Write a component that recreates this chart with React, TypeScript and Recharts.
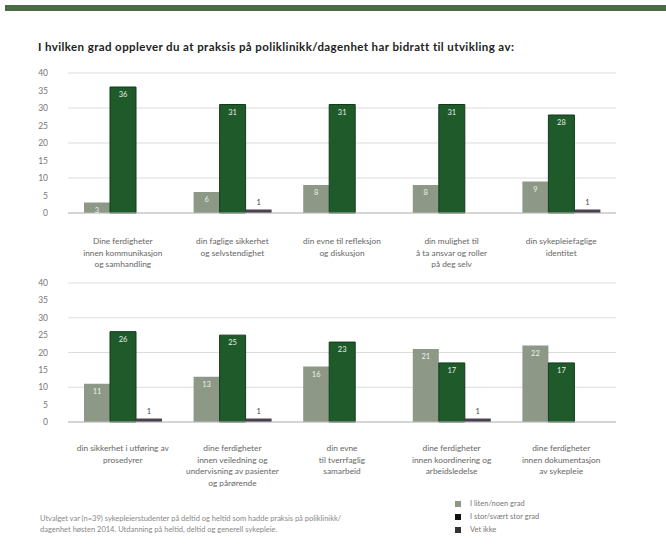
import { BarChart, Bar, XAxis, YAxis, CartesianGrid, LabelList } from 'recharts';

const TITLE = 'I hvilken grad opplever du at praksis på poliklinikk/dagenhet har bidratt til utvikling av:';

const SERIES = ['I liten/noen grad', 'I stor/svært stor grad', 'Vet ikke'];
const COLORS = ['#8d9887', '#1f5a2a', '#4a4050'];

// categories, line breaks with \n
const topCategories = [
  'Dine ferdigheter\ninnen kommunikasjon\nog samhandling',
  'din faglige sikkerhet\nog selvstendighet',
  'din evne til refleksjon\nog diskusjon',
  'din mulighet til\nå ta ansvar og roller\npå deg selv',
  'din sykepleiefaglige\nidentitet',
];
const topLow = [3, 6, 8, 8, 9];
const topHigh = [36, 31, 31, 31, 28];
const topDontKnow = [null, 1, null, null, 1];

const bottomCategories = [
  'din sikkerhet i utføring av\nprosedyrer',
  'dine ferdigheter\ninnen veiledning og\nundervisning av pasienter\nog pårørende',
  'din evne\ntil tverrfaglig\nsamarbeid',
  'dine ferdigheter\ninnen koordinering og\narbeidsledelse',
  'dine ferdigheter\ninnen dokumentasjon\nav sykepleie',
];
const bottomLow = [11, 13, 16, 21, 22];
const bottomHigh = [26, 25, 23, 17, 17];
const bottomDontKnow = [1, 1, null, 1, null];

const yTicks = [0, 5, 10, 15, 20, 25, 30, 35, 40];

const FOOTNOTE = [
  'Utvalget var (n=39) sykepleierstudenter på deltid og heltid som hadde praksis på poliklinikk/',
  'dagenhet høsten 2014. Utdanning på heltid, deltid og generell sykepleie.',
];

const FONT = 'Lato, "Liberation Sans", sans-serif';

const build = (cats: string[], a: (number | null)[], b: (number | null)[], c: (number | null)[]) =>
  cats.map((name, i) => ({ name, low: a[i], high: b[i], dk: c[i] }));

const CatTick = ({ x, y, payload, first }: any) => {
  const lines = String(payload.value).split('\n');
  return (
    <text x={x} y={y + first} textAnchor="middle" fill="#666" fontSize={8.3} fontFamily={FONT}>
      {lines.map((l, i) => (
        <tspan key={i} x={x} dy={i === 0 ? 0 : 11.5}>
          {l}
        </tspan>
      ))}
    </text>
  );
};

const hideZero = (v: any) => (v ? v : '');

function Panel({ data, top, height, marginTop, axisH, first }: any) {
  return (
    <div style={{ position: 'absolute', left: 0, top, width: 666, height }}>
      <BarChart
        width={666}
        height={height}
        data={data}
        margin={{ top: marginTop, right: 50, bottom: 4, left: 18 }}
        barSize={26}
        barGap={0}
      >
        <CartesianGrid vertical={false} stroke="#dcdcdc" />
        <XAxis
          dataKey="name"
          height={axisH}
          interval={0}
          tickLine={false}
          axisLine={{ stroke: '#bdbdbd' }}
          tick={<CatTick first={first} />}
        />
        <YAxis
          width={50}
          domain={[0, 40]}
          ticks={yTicks}
          axisLine={false}
          tickLine={false}
          tickSize={0}
          tickMargin={20}
          tick={{ fill: '#777', fontSize: 8.5, fontFamily: FONT }}
        />
        <Bar dataKey="low" name={SERIES[0]} fill={COLORS[0]} isAnimationActive={false}>
          <LabelList dataKey="low" position="insideTop" fill="#eef0ea" fontSize={7.5} fontFamily={FONT} formatter={hideZero} />
        </Bar>
        <Bar dataKey="high" name={SERIES[1]} fill={COLORS[1]} stroke="#123b1a" strokeWidth={1} isAnimationActive={false}>
          <LabelList dataKey="high" position="insideTop" fill="#e6efe6" fontSize={7.5} fontFamily={FONT} formatter={hideZero} />
        </Bar>
        <Bar dataKey="dk" name={SERIES[2]} fill={COLORS[2]} isAnimationActive={false}>
          <LabelList dataKey="dk" position="top" fill="#444" fontSize={7.5} fontFamily={FONT} formatter={hideZero} />
        </Bar>
      </BarChart>
    </div>
  );
}

export default function App() {
  const topData = build(topCategories, topLow, topHigh, topDontKnow);
  const bottomData = build(bottomCategories, bottomLow, bottomHigh, bottomDontKnow);
  return (
    <div style={{ position: 'absolute', left: 0, top: 0, width: 666, height: 546, background: '#fff', overflow: 'hidden', fontFamily: FONT }}>
      <div style={{ position: 'absolute', left: 5, top: 5, width: 661, height: 6, background: '#4b6b47' }} />
      <div style={{ position: 'absolute', left: 38, top: 40, fontSize: 11.5, letterSpacing: 0.4, fontWeight: 700, color: '#222', whiteSpace: 'nowrap' }}>
        {TITLE}
      </div>
      <Panel data={topData} top={0} height={270} marginTop={73} axisH={53} first={23} />
      <Panel data={bottomData} top={270} height={230} marginTop={13} axisH={74} first={21} />
      <div style={{ position: 'absolute', left: 40, top: 513, fontSize: 7.5, color: '#888', lineHeight: '11px', whiteSpace: 'nowrap' }}>
        {FOOTNOTE.map((l) => (
          <div key={l}>{l}</div>
        ))}
      </div>
      <div style={{ position: 'absolute', left: 455, top: 497, fontSize: 7.5, color: '#777' }}>
        {SERIES.map((s, i) => (
          <div key={s} style={{ display: 'flex', alignItems: 'center', height: 13 }}>
            <span style={{ width: 6, height: 6, background: i === 0 ? '#8d9887' : i === 1 ? '#111' : '#333', marginRight: 9 }} />
            {s}
          </div>
        ))}
      </div>
    </div>
  );
}
